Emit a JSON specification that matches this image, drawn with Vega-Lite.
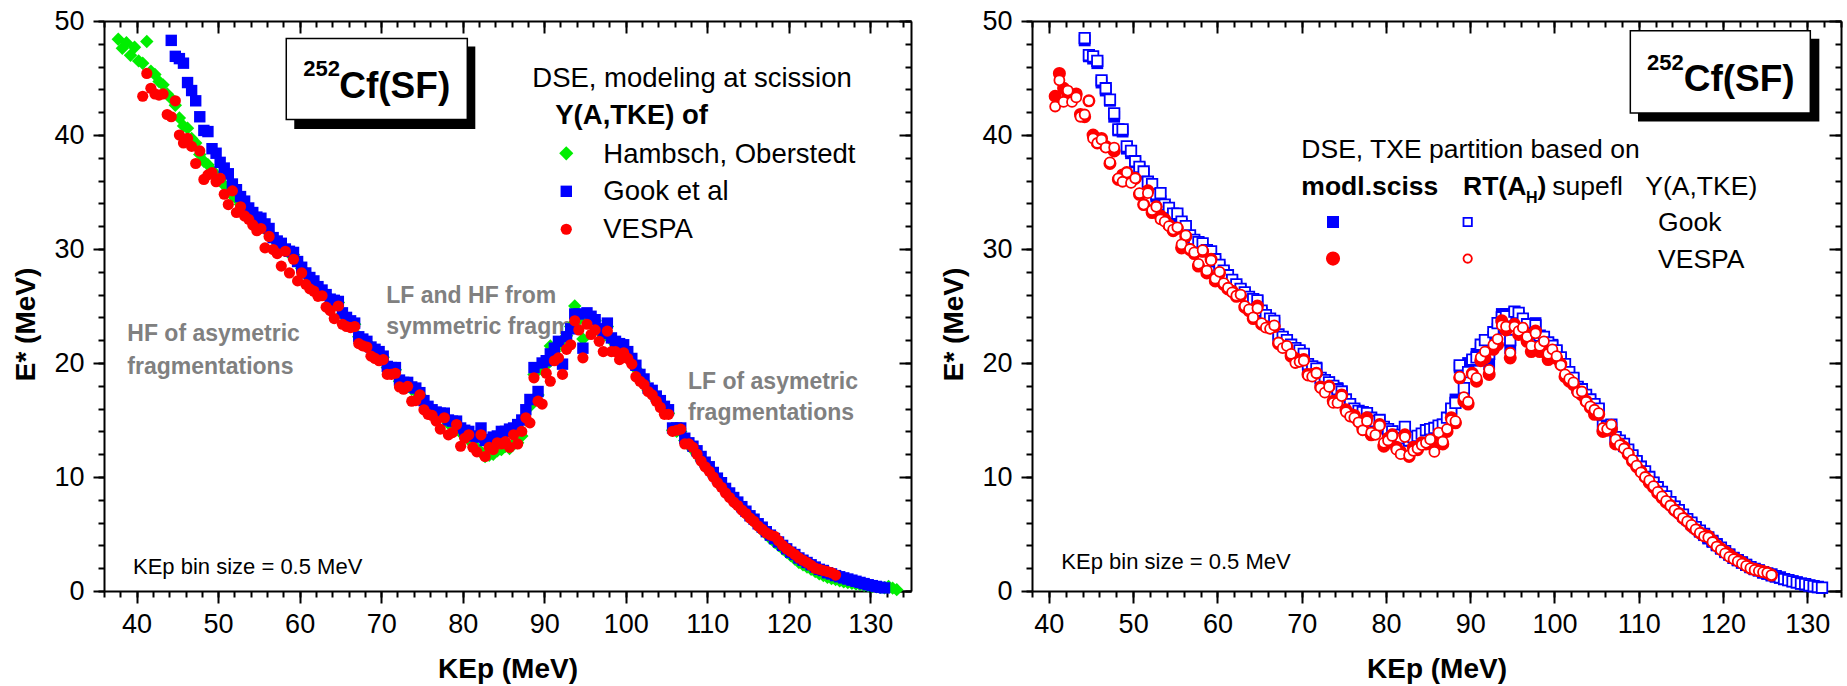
{
"$schema":"https://vega.github.io/schema/vega-lite/v6.json",
"background":"white",
"padding":{"left":12,"top":7,"right":5,"bottom":5},
"config":{"font":"Liberation Sans","view":{"stroke":null},
 "axis":{"grid":false,"domainColor":"black","tickColor":"black","labelColor":"black","titleColor":"black","domainWidth":2,"tickWidth":2,"labelFont":"Liberation Sans","labelFontSize":27,"titleFont":"Liberation Sans","titleFontSize":28,"titleFontWeight":"bold","labelFlush":false,"labelOverlap":false},
 "text":{"font":"Liberation Sans"}},
"datasets":{"d":[
{"k":37.75,"h":48.4},{"k":38.25,"h":47.6},{"k":38.75,"h":48.1},{"k":39.25,"h":47.0},{"k":39.75,"h":47.7},{"k":40.25,"h":46.5},
{"k":40.75,"h":46.3,"v":43.4,"vo":42.5},
{"k":41.25,"h":48.2,"v":45.4,"vo":44.8},
{"k":41.75,"h":45.6,"v":44.1,"vo":42.9},
{"k":42.25,"h":45.3,"v":43.6,"vo":43.9},
{"k":42.75,"h":44.7,"v":43.5,"vo":42.9},
{"k":43.25,"h":44.4,"v":43.6,"vo":43.3},
{"k":43.75,"h":43.6,"v":41.8,"vo":41.6},
{"k":44.25,"h":43.2,"g":48.3,"v":41.6,"go":48.5,"vo":41.8},
{"k":44.75,"h":42.6,"g":46.9,"v":43.0,"go":47.0,"vo":43.0},
{"k":45.25,"h":41.5,"g":46.7,"v":40.0,"go":46.9,"vo":39.7},
{"k":45.75,"h":40.8,"g":46.3,"v":39.3,"go":46.5,"vo":39.3},
{"k":46.25,"h":40.6,"g":44.6,"v":39.7,"go":44.8,"vo":39.6},
{"k":46.75,"h":39.7,"g":43.9,"v":39.0,"go":44.1,"vo":38.9},
{"k":47.25,"h":39.3,"g":43.0,"v":37.5,"go":43.1,"vo":37.6},
{"k":47.75,"h":38.3,"g":41.6,"v":38.6,"go":41.9,"vo":38.9},
{"k":48.25,"h":37.7,"g":40.4,"v":36.1,"go":40.5,"vo":36.2},
{"k":48.75,"h":37.4,"g":40.3,"v":36.5,"go":40.5,"vo":35.9},
{"k":49.25,"h":36.9,"g":38.8,"v":36.7,"go":39.0,"vo":36.7},
{"k":49.75,"h":36.5,"g":38.4,"v":35.9,"go":38.6,"vo":35.8},
{"k":50.25,"h":36.1,"g":37.6,"v":36.2,"go":37.7,"vo":36.2},
{"k":50.75,"h":35.6,"g":37.1,"v":34.8,"go":37.2,"vo":34.9},
{"k":51.25,"h":35.2,"g":36.6,"v":33.9,"go":36.8,"vo":33.9},
{"k":51.75,"h":34.7,"g":35.7,"v":35.1,"go":35.9,"vo":34.9},
{"k":52.25,"h":34.4,"g":35.2,"v":33.2,"go":35.7,"vo":33.4},
{"k":52.75,"h":33.9,"g":34.6,"v":33.7,"go":34.8,"vo":33.7},
{"k":53.25,"h":33.5,"g":34.2,"v":32.9,"go":34.9,"vo":32.6},
{"k":53.75,"h":33.1,"g":33.6,"v":32.6,"go":33.9,"vo":32.4},
{"k":54.25,"h":32.7,"g":33.2,"v":32.1,"go":33.6,"vo":32.0},
{"k":54.75,"h":32.5,"g":32.8,"v":31.6,"go":33.1,"vo":31.7},
{"k":55.25,"h":32.2,"g":32.7,"v":31.8,"go":33.1,"vo":31.9},
{"k":55.75,"h":31.9,"g":32.2,"v":30.1,"go":32.4,"vo":30.4},
{"k":56.25,"h":31.4,"g":31.8,"v":31.1,"go":32.0,"vo":31.2},
{"k":56.75,"h":30.9,"g":31.0,"v":29.95,"go":31.2,"vo":30.0},
{"k":57.25,"h":30.6,"g":30.7,"v":29.6,"go":30.8,"vo":29.7},
{"k":57.75,"h":30.3,"g":30.5,"v":28.5,"go":30.6,"vo":28.7},
{"k":58.25,"h":29.9,"g":30.0,"v":29.8,"go":30.5,"vo":29.9},
{"k":58.75,"h":29.6,"g":29.8,"v":27.9,"go":29.9,"vo":28.1},
{"k":59.25,"h":29.5,"g":29.7,"v":29.1,"go":29.8,"vo":29.0},
{"k":59.75,"h":28.8,"g":28.9,"v":27.2,"go":29.1,"vo":27.4},
{"k":60.25,"h":28.3,"g":28.4,"v":27.9,"go":28.6,"vo":28.0},
{"k":60.75,"h":27.9,"g":27.9,"v":26.9,"go":28.1,"vo":27.0},
{"k":61.25,"h":27.4,"g":27.5,"v":26.5,"go":27.7,"vo":26.6},
{"k":61.75,"h":27.0,"g":27.2,"v":26.3,"go":27.3,"vo":26.2},
{"k":62.25,"h":26.6,"g":26.7,"v":25.85,"go":26.9,"vo":25.9},
{"k":62.75,"h":26.3,"g":26.4,"v":25.9,"go":26.5,"vo":26.0},
{"k":63.25,"h":26.0,"g":26.0,"v":24.9,"go":26.2,"vo":25.0},
{"k":63.75,"h":25.6,"g":25.6,"v":24.6,"go":25.8,"vo":24.7},
{"k":64.25,"h":25.3,"g":25.5,"v":23.9,"go":25.6,"vo":24.0},
{"k":64.75,"h":25.3,"g":25.4,"v":25.0,"go":25.5,"vo":24.8},
{"k":65.25,"h":24.3,"g":24.4,"v":23.4,"go":24.6,"vo":23.5},
{"k":65.75,"h":23.9,"g":24.0,"v":23.2,"go":24.2,"vo":23.1},
{"k":66.25,"h":23.6,"g":23.7,"v":23.1,"go":23.9,"vo":23.0},
{"k":66.75,"h":23.4,"g":23.5,"v":23.2,"go":23.7,"vo":23.3},
{"k":67.25,"h":22.3,"g":22.3,"v":21.7,"go":22.5,"vo":21.8},
{"k":67.75,"h":22.0,"g":22.1,"v":21.5,"go":22.3,"vo":21.3},
{"k":68.25,"h":21.8,"g":21.9,"v":21.4,"go":22.0,"vo":21.5},
{"k":68.75,"h":21.3,"g":21.4,"v":20.6,"go":21.6,"vo":20.8},
{"k":69.25,"h":21.1,"g":21.2,"v":20.4,"go":21.3,"vo":20.0},
{"k":69.75,"h":20.9,"g":21.0,"v":20.2,"go":21.1,"vo":20.1},
{"k":70.25,"h":20.5,"g":20.6,"v":20.3,"go":20.8,"vo":20.2},
{"k":70.75,"h":19.6,"g":19.7,"v":19.0,"go":19.9,"vo":18.9},
{"k":71.25,"h":19.5,"g":19.6,"v":19.0,"go":19.7,"vo":18.8},
{"k":71.75,"h":19.4,"g":19.6,"v":19.1,"go":19.5,"vo":19.1},
{"k":72.25,"h":18.4,"g":18.5,"v":17.9,"go":18.7,"vo":17.8},
{"k":72.75,"h":18.2,"g":18.3,"v":17.7,"go":18.5,"vo":17.4},
{"k":73.25,"h":18.1,"g":18.3,"v":17.95,"go":18.3,"vo":17.9},
{"k":73.75,"h":17.7,"g":17.9,"v":16.65,"go":18.0,"vo":16.5},
{"k":74.25,"h":17.5,"g":17.8,"v":16.7,"go":17.7,"vo":16.5},
{"k":74.75,"h":17.2,"g":17.4,"v":17.2,"go":17.5,"vo":17.1},
{"k":75.25,"h":16.5,"g":16.7,"v":15.9,"go":16.8,"vo":15.7},
{"k":75.75,"h":16.0,"g":16.2,"v":15.5,"go":16.4,"vo":15.3},
{"k":76.25,"h":15.7,"g":15.9,"v":15.4,"go":16.0,"vo":15.2},
{"k":76.75,"h":15.4,"g":15.7,"v":14.9,"go":15.8,"vo":14.8},
{"k":77.25,"h":15.3,"g":15.6,"v":14.2,"go":15.7,"vo":14.1},
{"k":77.75,"h":15.2,"g":15.6,"v":15.2,"go":15.6,"vo":14.9},
{"k":78.25,"h":14.7,"g":15.0,"v":13.7,"go":15.2,"vo":13.9},
{"k":78.75,"h":14.5,"g":14.9,"v":13.9,"go":14.9,"vo":13.7},
{"k":79.25,"h":14.4,"g":14.9,"v":14.6,"go":15.0,"vo":14.5},
{"k":79.75,"h":13.9,"g":14.3,"v":12.7,"go":14.4,"vo":13.0},
{"k":80.25,"h":13.6,"g":14.1,"v":13.4,"go":14.2,"vo":13.2},
{"k":80.75,"h":13.3,"g":14.0,"v":13.7,"go":14.0,"vo":13.6},
{"k":81.25,"h":12.9,"g":13.6,"v":12.6,"go":13.7,"vo":12.4},
{"k":81.75,"h":12.5,"g":13.5,"v":12.2,"go":13.4,"vo":12.0},
{"k":82.25,"h":12.2,"g":14.3,"v":13.7,"go":14.4,"vo":13.5},
{"k":82.75,"h":11.8,"g":13.2,"v":11.8,"go":13.2,"vo":11.9},
{"k":83.25,"h":11.9,"g":13.3,"v":12.6,"go":13.5,"vo":12.3},
{"k":83.75,"h":12.0,"g":13.5,"v":12.4,"go":13.6,"vo":12.5},
{"k":84.25,"h":12.3,"g":13.6,"v":13.0,"go":13.8,"vo":12.8},
{"k":84.75,"h":12.4,"g":14.0,"v":12.9,"go":14.1,"vo":13.0},
{"k":85.25,"h":12.7,"g":14.0,"v":13.1,"go":14.2,"vo":13.3},
{"k":85.75,"h":12.5,"g":14.2,"v":12.6,"go":14.3,"vo":12.2},
{"k":86.25,"h":12.9,"g":14.3,"v":13.7,"go":14.5,"vo":13.9},
{"k":86.75,"h":13.0,"g":14.6,"v":12.9,"go":14.6,"vo":13.1},
{"k":87.25,"h":13.6,"g":15.0,"v":14.0,"go":15.2,"vo":14.2},
{"k":87.75,"h":15.0,"g":15.9,"v":15.2,"go":16.0,"vo":15.0},
{"k":88.25,"h":16.2,"g":16.8,"v":14.75,"go":16.5,"vo":14.9},
{"k":88.75,"h":19.0,"g":19.6,"v":18.7,"go":19.8,"vo":18.8},
{"k":89.25,"h":17.2,"g":17.5,"v":16.65,"go":17.8,"vo":17.0},
{"k":89.75,"h":19.4,"g":20.0,"v":16.4,"go":19.2,"vo":16.6},
{"k":90.25,"h":19.8,"g":20.2,"v":19.1,"go":20.3,"vo":19.0},
{"k":90.75,"h":21.5,"g":20.8,"v":18.4,"go":20.5,"vo":18.7},
{"k":91.25,"h":21.0,"g":21.3,"v":20.2,"go":21.6,"vo":20.5},
{"k":91.75,"h":21.6,"g":21.9,"v":20.45,"go":22.0,"vo":21.0},
{"k":92.25,"h":21.5,"g":19.9,"v":19.0,"go":20.8,"vo":19.4},
{"k":92.75,"h":22.4,"g":22.3,"v":21.2,"go":22.7,"vo":21.6},
{"k":93.25,"h":23.2,"g":23.0,"v":21.6,"go":23.5,"vo":22.1},
{"k":93.75,"h":25.0,"g":24.3,"v":23.7,"go":24.0,"vo":23.3},
{"k":94.25,"h":23.8,"g":24.3,"v":22.9,"go":24.1,"vo":23.2},
{"k":94.75,"h":22.1,"g":21.3,"v":20.45,"go":22.0,"vo":20.9},
{"k":95.25,"h":24.1,"g":24.4,"v":23.4,"go":24.5,"vo":23.2},
{"k":95.75,"h":23.8,"g":24.1,"v":22.5,"go":24.4,"vo":22.8},
{"k":96.25,"h":23.7,"g":23.8,"v":22.9,"go":23.9,"vo":23.1},
{"k":96.75,"h":22.9,"g":23.0,"v":21.9,"go":23.4,"vo":22.3},
{"k":97.25,"h":22.4,"g":22.6,"v":21.0,"go":22.6,"vo":21.5},
{"k":97.75,"h":23.2,"g":23.5,"v":22.8,"go":23.3,"vo":22.6},
{"k":98.25,"h":22.0,"g":22.2,"v":21.0,"go":22.4,"vo":21.5},
{"k":98.75,"h":21.6,"g":21.9,"v":21.0,"go":22.3,"vo":21.9},
{"k":99.25,"h":21.5,"g":21.7,"v":20.3,"go":21.8,"vo":20.8},
{"k":99.75,"h":21.3,"g":21.6,"v":20.9,"go":21.5,"vo":21.2},
{"k":100.25,"h":20.8,"g":21.0,"v":20.4,"go":21.1,"vo":20.6},
{"k":100.75,"h":20.1,"g":20.4,"v":19.9,"go":20.5,"vo":19.8},
{"k":101.25,"h":19.5,"g":19.8,"v":18.8,"go":19.9,"vo":19.0},
{"k":101.75,"h":18.8,"g":19.0,"v":18.4,"go":19.2,"vo":18.6},
{"k":102.25,"h":18.4,"g":18.6,"v":18.1,"go":18.7,"vo":18.3},
{"k":102.75,"h":17.6,"g":17.8,"v":17.5,"go":17.9,"vo":17.4},
{"k":103.25,"h":17.3,"g":17.6,"v":17.2,"go":17.7,"vo":17.5},
{"k":103.75,"h":16.8,"g":17.1,"v":16.65,"go":17.2,"vo":16.6},
{"k":104.25,"h":16.4,"g":16.7,"v":16.1,"go":16.8,"vo":16.2},
{"k":104.75,"h":15.9,"g":16.2,"v":15.5,"go":16.4,"vo":15.9},
{"k":105.25,"h":15.6,"g":15.9,"v":15.5,"go":16.0,"vo":15.6},
{"k":105.75,"h":14.1,"g":14.3,"v":14.0,"go":14.5,"vo":14.3},
{"k":106.25,"h":14.0,"g":14.3,"v":14.1,"go":14.4,"vo":14.2},
{"k":106.75,"h":14.0,"g":14.3,"v":14.2,"go":14.6,"vo":14.6},
{"k":107.25,"h":13.2,"g":13.4,"v":12.9,"go":13.5,"vo":13.3},
{"k":107.75,"h":12.8,"g":13.0,"v":12.9,"go":13.2,"vo":12.8},
{"k":108.25,"h":12.4,"g":12.7,"v":12.6,"go":12.9,"vo":12.5},
{"k":108.75,"h":12.0,"g":12.3,"v":12.0,"go":12.4,"vo":12.1},
{"k":109.25,"h":11.5,"g":11.8,"v":11.4,"go":11.9,"vo":11.5},
{"k":109.75,"h":11.0,"g":11.3,"v":10.9,"go":11.4,"vo":11.0},
{"k":110.25,"h":10.6,"g":10.9,"v":10.5,"go":10.9,"vo":10.4},
{"k":110.75,"h":10.1,"g":10.4,"v":10.0,"go":10.5,"vo":10.0},
{"k":111.25,"h":9.7,"g":9.9,"v":9.5,"go":10.0,"vo":9.7},
{"k":111.75,"h":9.2,"g":9.5,"v":9.1,"go":9.5,"vo":9.2},
{"k":112.25,"h":8.8,"g":9.0,"v":8.6,"go":9.1,"vo":8.7},
{"k":112.75,"h":8.4,"g":8.6,"v":8.2,"go":8.7,"vo":8.3},
{"k":113.25,"h":8.0,"g":8.2,"v":7.8,"go":8.3,"vo":7.9},
{"k":113.75,"h":7.6,"g":7.8,"v":7.5,"go":7.8,"vo":7.5},
{"k":114.25,"h":7.2,"g":7.4,"v":7.1,"go":7.4,"vo":7.1},
{"k":114.75,"h":6.8,"g":7.0,"v":6.8,"go":7.1,"vo":6.8},
{"k":115.25,"h":6.4,"g":6.6,"v":6.4,"go":6.7,"vo":6.4},
{"k":115.75,"h":6.1,"g":6.3,"v":6.1,"go":6.3,"vo":6.1},
{"k":116.25,"h":5.7,"g":5.9,"v":5.7,"go":6.0,"vo":5.8},
{"k":116.75,"h":5.3,"g":5.6,"v":5.4,"go":5.6,"vo":5.4},
{"k":117.25,"h":5.0,"g":5.2,"v":5.1,"go":5.3,"vo":5.1},
{"k":117.75,"h":4.6,"g":4.9,"v":4.9,"go":5.0,"vo":4.8},
{"k":118.25,"h":4.3,"g":4.6,"v":4.8,"go":4.7,"vo":4.7},
{"k":118.75,"h":4.0,"g":4.3,"v":4.4,"go":4.4,"vo":4.3},
{"k":119.25,"h":3.7,"g":4.0,"v":4.0,"go":4.1,"vo":3.9},
{"k":119.75,"h":3.4,"g":3.7,"v":3.7,"go":3.8,"vo":3.6},
{"k":120.25,"h":3.1,"g":3.4,"v":3.45,"go":3.5,"vo":3.3},
{"k":120.75,"h":2.8,"g":3.2,"v":3.2,"go":3.2,"vo":3.0},
{"k":121.25,"h":2.5,"g":2.9,"v":2.9,"go":2.9,"vo":2.8},
{"k":121.75,"h":2.3,"g":2.7,"v":2.7,"go":2.7,"vo":2.6},
{"k":122.25,"h":2.1,"g":2.5,"v":2.5,"go":2.5,"vo":2.4},
{"k":122.75,"h":1.9,"g":2.3,"v":2.25,"go":2.3,"vo":2.2},
{"k":123.25,"h":1.7,"g":2.1,"v":2.0,"go":2.1,"vo":2.0},
{"k":123.75,"h":1.5,"g":1.9,"v":1.9,"go":1.95,"vo":1.85},
{"k":124.25,"h":1.35,"g":1.8,"v":1.8,"go":1.8,"vo":1.75},
{"k":124.75,"h":1.2,"g":1.6,"v":1.7,"go":1.65,"vo":1.65},
{"k":125.25,"h":1.1,"g":1.5,"v":1.6,"go":1.55,"vo":1.6},
{"k":125.75,"h":1.0,"g":1.35,"v":1.4,"go":1.45,"vo":1.4},
{"k":126.25,"h":0.9,"g":1.25,"go":1.3},
{"k":126.75,"h":0.8,"g":1.15,"go":1.2},
{"k":127.25,"h":0.75,"g":1.05,"go":1.05},
{"k":127.75,"h":0.68,"g":0.95,"go":0.95},
{"k":128.25,"h":0.62,"g":0.85,"go":0.85},
{"k":128.75,"h":0.56,"g":0.75,"go":0.75},
{"k":129.25,"h":0.5,"g":0.65,"go":0.65},
{"k":129.75,"h":0.45,"g":0.55,"go":0.6},
{"k":130.25,"h":0.4,"g":0.47,"go":0.5},
{"k":130.75,"h":0.36,"g":0.4,"go":0.42},
{"k":131.25,"h":0.32,"g":0.33,"go":0.35},
{"k":131.75,"h":0.28,"g":0.27,"go":0.3},
{"k":132.25,"h":0.4},{"k":132.75,"h":0.25},{"k":133.25,"h":0.12}
]},
"spacing":121,
"bounds":"flush",
"hconcat":[
{
 "width":807,"height":570,
 "resolve":{"axis":{"x":"independent","y":"independent"}},
 "layer":[
  {"data":{"values":[{}]},"mark":{"type":"text","text":["HF of asymetric","fragmentations"],"align":"left","baseline":"alphabetic","fontSize":23,"fontWeight":"bold","color":"#808080","lineHeight":33},
   "encoding":{"x":{"datum":38.86,"type":"quantitative","axis":null},"y":{"datum":21.91,"type":"quantitative","axis":null}}},
  {"data":{"values":[{}]},"mark":{"type":"text","text":["LF and HF from","symmetric fragm."],"align":"left","baseline":"alphabetic","fontSize":23,"fontWeight":"bold","color":"#808080","lineHeight":31.5},
   "encoding":{"x":{"datum":70.63,"type":"quantitative","axis":null},"y":{"datum":25.27,"type":"quantitative","axis":null}}},
  {"data":{"values":[{}]},"mark":{"type":"text","text":["LF of asymetric","fragmentations"],"align":"left","baseline":"alphabetic","fontSize":23,"fontWeight":"bold","color":"#808080","lineHeight":31},
   "encoding":{"x":{"datum":107.64,"type":"quantitative","axis":null},"y":{"datum":17.7,"type":"quantitative","axis":null}}},
  {"data":{"name":"d"},"mark":{"type":"point","shape":"diamond","filled":true,"color":"#00ee00","size":180,"opacity":1},
   "encoding":{
    "x":{"field":"k","type":"quantitative","scale":{"domain":[36,135],"nice":false,"zero":false},
      "axis":{"orient":"bottom","values":[40,50,60,70,80,90,100,110,120,130],"tickSize":12,"labelPadding":8,"title":"KEp (MeV)","titlePadding":18}},
    "y":{"field":"h","type":"quantitative","scale":{"domain":[0,50],"nice":false,"zero":false},
      "axis":{"orient":"left","values":[0,10,20,30,40,50],"tickSize":11,"labelPadding":9,"title":"E* (MeV)","titlePadding":13,"titleY":303}}}},
  {"data":{"name":"d"},"mark":{"type":"point","shape":"square","filled":true,"color":"#0000ff","size":130,"opacity":1},
   "encoding":{
    "x":{"field":"k","type":"quantitative","scale":{"domain":[36,135],"nice":false,"zero":false},
      "axis":{"orient":"bottom","values":[36,38,40,42,44,46,48,50,52,54,56,58,60,62,64,66,68,70,72,74,76,78,80,82,84,86,88,90,92,94,96,98,100,102,104,106,108,110,112,114,116,118,120,122,124,126,128,130,132,134],"tickSize":6,"labels":false,"domain":false,"title":null}},
    "y":{"field":"g","type":"quantitative","scale":{"domain":[0,50],"nice":false,"zero":false},
      "axis":{"orient":"left","values":[0,2,4,6,8,10,12,14,16,18,20,22,24,26,28,30,32,34,36,38,40,42,44,46,48,50],"tickSize":6,"labels":false,"domain":false,"title":null}}}},
  {"data":{"name":"d"},"mark":{"type":"point","shape":"circle","filled":true,"color":"#ff0000","size":125,"opacity":1},
   "encoding":{
    "x":{"field":"k","type":"quantitative","scale":{"domain":[36,135],"nice":false,"zero":false},
      "axis":{"orient":"top","values":[40,50,60,70,80,90,100,110,120,130],"tickSize":-12,"labels":false,"title":null}},
    "y":{"field":"v","type":"quantitative","scale":{"domain":[0,50],"nice":false,"zero":false},
      "axis":{"orient":"right","values":[0,10,20,30,40,50],"tickSize":-12,"labels":false,"title":null}}}},
  {"data":{"values":[{}]},"mark":{"type":"rect","color":"black"},
   "encoding":{
    "x":{"datum":59.34,"type":"quantitative","axis":{"orient":"top","values":[36,38,40,42,44,46,48,50,52,54,56,58,60,62,64,66,68,70,72,74,76,78,80,82,84,86,88,90,92,94,96,98,100,102,104,106,108,110,112,114,116,118,120,122,124,126,128,130,132,134],"tickSize":-6,"labels":false,"domain":false,"title":null}},
    "x2":{"datum":81.55},
    "y":{"datum":47.77,"type":"quantitative","axis":{"orient":"right","values":[0,2,4,6,8,10,12,14,16,18,20,22,24,26,28,30,32,34,36,38,40,42,44,46,48,50],"tickSize":-6,"labels":false,"domain":false,"title":null}},
    "y2":{"datum":40.52}}},
  {"data":{"values":[{}]},"mark":{"type":"rect","fill":"white","stroke":"black","strokeWidth":1.5},
   "encoding":{"x":{"datum":58.36,"type":"quantitative","axis":null},"x2":{"datum":80.57},"y":{"datum":48.47,"type":"quantitative","axis":null},"y2":{"datum":41.37}}},
  {"data":{"values":[{}]},"mark":{"type":"text","text":"252","align":"left","baseline":"alphabetic","fontSize":22,"fontWeight":"bold","color":"black"},
   "encoding":{"x":{"datum":60.45,"type":"quantitative","axis":null},"y":{"datum":45.14,"type":"quantitative","axis":null}}},
  {"data":{"values":[{}]},"mark":{"type":"text","text":"Cf(SF)","align":"left","baseline":"alphabetic","fontSize":37,"fontWeight":"bold","color":"black"},
   "encoding":{"x":{"datum":64.86,"type":"quantitative","axis":null},"y":{"datum":43.21,"type":"quantitative","axis":null}}},
  {"data":{"values":[{}]},"mark":{"type":"text","text":"DSE, modeling at scission","align":"left","baseline":"alphabetic","fontSize":27.5,"color":"black"},
   "encoding":{"x":{"datum":88.54,"type":"quantitative","axis":null},"y":{"datum":44.17,"type":"quantitative","axis":null}}},
  {"data":{"values":[{}]},"mark":{"type":"text","text":"Y(A,TKE) of","align":"left","baseline":"alphabetic","fontSize":27.5,"fontWeight":"bold","color":"black"},
   "encoding":{"x":{"datum":91.36,"type":"quantitative","axis":null},"y":{"datum":40.93,"type":"quantitative","axis":null}}},
  {"data":{"values":[{}]},"mark":{"type":"point","shape":"diamond","filled":true,"color":"#00ee00","size":200,"opacity":1},
   "encoding":{"x":{"datum":92.71,"type":"quantitative","axis":null},"y":{"datum":38.39,"type":"quantitative","axis":null}}},
  {"data":{"values":[{}]},"mark":{"type":"point","shape":"square","filled":true,"color":"#0000ff","size":130,"opacity":1},
   "encoding":{"x":{"datum":92.71,"type":"quantitative","axis":null},"y":{"datum":35.06,"type":"quantitative","axis":null}}},
  {"data":{"values":[{}]},"mark":{"type":"point","shape":"circle","filled":true,"color":"#ff0000","size":125,"opacity":1},
   "encoding":{"x":{"datum":92.71,"type":"quantitative","axis":null},"y":{"datum":31.73,"type":"quantitative","axis":null}}},
  {"data":{"values":[{}]},"mark":{"type":"text","text":"Hambsch, Oberstedt","align":"left","baseline":"alphabetic","fontSize":27.5,"color":"black"},
   "encoding":{"x":{"datum":97.25,"type":"quantitative","axis":null},"y":{"datum":37.51,"type":"quantitative","axis":null}}},
  {"data":{"values":[{}]},"mark":{"type":"text","text":"Gook et al","align":"left","baseline":"alphabetic","fontSize":27.5,"color":"black"},
   "encoding":{"x":{"datum":97.25,"type":"quantitative","axis":null},"y":{"datum":34.27,"type":"quantitative","axis":null}}},
  {"data":{"values":[{}]},"mark":{"type":"text","text":"VESPA","align":"left","baseline":"alphabetic","fontSize":27.5,"color":"black"},
   "encoding":{"x":{"datum":97.25,"type":"quantitative","axis":null},"y":{"datum":30.94,"type":"quantitative","axis":null}}},
  {"data":{"values":[{}]},"mark":{"type":"text","text":"KEp bin size = 0.5 MeV","align":"left","baseline":"alphabetic","fontSize":22,"color":"black"},
   "encoding":{"x":{"datum":39.56,"type":"quantitative","axis":null},"y":{"datum":1.49,"type":"quantitative","axis":null}}}
 ]
},
{
 "width":809,"height":570,
 "resolve":{"axis":{"x":"independent","y":"independent"}},
 "layer":[
  {"data":{"name":"d"},"mark":{"type":"point","shape":"square","filled":true,"color":"#0000ff","size":140,"opacity":1},
   "encoding":{
    "x":{"field":"k","type":"quantitative","scale":{"domain":[38,134],"nice":false,"zero":false},
      "axis":{"orient":"bottom","values":[40,50,60,70,80,90,100,110,120,130],"tickSize":12,"labelPadding":8,"title":"KEp (MeV)","titlePadding":18}},
    "y":{"field":"g","type":"quantitative","scale":{"domain":[0,50],"nice":false,"zero":false},
      "axis":{"orient":"left","values":[0,10,20,30,40,50],"tickSize":11,"labelPadding":9,"title":"E* (MeV)","titlePadding":13,"titleY":303}}}},
  {"data":{"name":"d"},"mark":{"type":"point","shape":"square","fill":"white","stroke":"#0000ff","strokeWidth":1.8,"size":110,"opacity":1},
   "encoding":{
    "x":{"field":"k","type":"quantitative","scale":{"domain":[38,134],"nice":false,"zero":false},
      "axis":{"orient":"bottom","values":[38,40,42,44,46,48,50,52,54,56,58,60,62,64,66,68,70,72,74,76,78,80,82,84,86,88,90,92,94,96,98,100,102,104,106,108,110,112,114,116,118,120,122,124,126,128,130,132,134],"tickSize":6,"labels":false,"domain":false,"title":null}},
    "y":{"field":"go","type":"quantitative","scale":{"domain":[0,50],"nice":false,"zero":false},
      "axis":{"orient":"left","values":[0,2,4,6,8,10,12,14,16,18,20,22,24,26,28,30,32,34,36,38,40,42,44,46,48,50],"tickSize":6,"labels":false,"domain":false,"title":null}}}},
  {"data":{"name":"d"},"mark":{"type":"point","shape":"circle","filled":true,"color":"#ff0000","size":170,"opacity":1},
   "encoding":{
    "x":{"field":"k","type":"quantitative","scale":{"domain":[38,134],"nice":false,"zero":false},
      "axis":{"orient":"top","values":[40,50,60,70,80,90,100,110,120,130],"tickSize":-12,"labels":false,"title":null}},
    "y":{"field":"v","type":"quantitative","scale":{"domain":[0,50],"nice":false,"zero":false},
      "axis":{"orient":"right","values":[0,10,20,30,40,50],"tickSize":-12,"labels":false,"title":null}}}},
  {"data":{"name":"d"},"mark":{"type":"point","shape":"circle","fill":"white","stroke":"#ff0000","strokeWidth":1.8,"size":100,"opacity":1},
   "encoding":{
    "x":{"field":"k","type":"quantitative","scale":{"domain":[38,134],"nice":false,"zero":false},
      "axis":{"orient":"top","values":[38,40,42,44,46,48,50,52,54,56,58,60,62,64,66,68,70,72,74,76,78,80,82,84,86,88,90,92,94,96,98,100,102,104,106,108,110,112,114,116,118,120,122,124,126,128,130,132,134],"tickSize":-6,"labels":false,"domain":false,"title":null}},
    "y":{"field":"vo","type":"quantitative","scale":{"domain":[0,50],"nice":false,"zero":false},
      "axis":{"orient":"right","values":[0,2,4,6,8,10,12,14,16,18,20,22,24,26,28,30,32,34,36,38,40,42,44,46,48,50],"tickSize":-6,"labels":false,"domain":false,"title":null}}}},
  {"data":{"values":[{}]},"mark":{"type":"rect","color":"black"},
   "encoding":{"x":{"datum":109.91,"type":"quantitative","axis":null},"x2":{"datum":131.43},"y":{"datum":48.44,"type":"quantitative","axis":null},"y2":{"datum":41.19}}},
  {"data":{"values":[{}]},"mark":{"type":"rect","fill":"white","stroke":"black","strokeWidth":1.5},
   "encoding":{"x":{"datum":109.0,"type":"quantitative","axis":null},"x2":{"datum":130.36},"y":{"datum":49.14,"type":"quantitative","axis":null},"y2":{"datum":41.92}}},
  {"data":{"values":[{}]},"mark":{"type":"text","text":"252","align":"left","baseline":"alphabetic","fontSize":22,"fontWeight":"bold","color":"black"},
   "encoding":{"x":{"datum":110.98,"type":"quantitative","axis":null},"y":{"datum":45.72,"type":"quantitative","axis":null}}},
  {"data":{"values":[{}]},"mark":{"type":"text","text":"Cf(SF)","align":"left","baseline":"alphabetic","fontSize":37,"fontWeight":"bold","color":"black"},
   "encoding":{"x":{"datum":115.33,"type":"quantitative","axis":null},"y":{"datum":43.82,"type":"quantitative","axis":null}}},
  {"data":{"values":[{}]},"mark":{"type":"text","text":"DSE, TXE partition based on","align":"left","baseline":"alphabetic","fontSize":26.5,"color":"black"},
   "encoding":{"x":{"datum":69.96,"type":"quantitative","axis":null},"y":{"datum":37.98,"type":"quantitative","axis":null}}},
  {"data":{"values":[{}]},"mark":{"type":"text","text":"modl.sciss","align":"left","baseline":"alphabetic","fontSize":26.5,"fontWeight":"bold","color":"black"},
   "encoding":{"x":{"datum":69.96,"type":"quantitative","axis":null},"y":{"datum":34.77,"type":"quantitative","axis":null}}},
  {"data":{"values":[{}]},"mark":{"type":"text","text":"RT(A","align":"left","baseline":"alphabetic","fontSize":26.5,"fontWeight":"bold","color":"black"},
   "encoding":{"x":{"datum":89.15,"type":"quantitative","axis":null},"y":{"datum":34.77,"type":"quantitative","axis":null}}},
  {"data":{"values":[{}]},"mark":{"type":"text","text":"H","align":"left","baseline":"alphabetic","fontSize":16,"fontWeight":"bold","color":"black"},
   "encoding":{"x":{"datum":96.63,"type":"quantitative","axis":null},"y":{"datum":34.03,"type":"quantitative","axis":null}}},
  {"data":{"values":[{}]},"mark":{"type":"text","text":")","align":"left","baseline":"alphabetic","fontSize":26.5,"fontWeight":"bold","color":"black"},
   "encoding":{"x":{"datum":97.99,"type":"quantitative","axis":null},"y":{"datum":34.77,"type":"quantitative","axis":null}}},
  {"data":{"values":[{}]},"mark":{"type":"text","text":"supefl","align":"left","baseline":"alphabetic","fontSize":26.5,"color":"black"},
   "encoding":{"x":{"datum":99.73,"type":"quantitative","axis":null},"y":{"datum":34.77,"type":"quantitative","axis":null}}},
  {"data":{"values":[{}]},"mark":{"type":"text","text":"Y(A,TKE)","align":"left","baseline":"alphabetic","fontSize":26.5,"color":"black"},
   "encoding":{"x":{"datum":110.78,"type":"quantitative","axis":null},"y":{"datum":34.77,"type":"quantitative","axis":null}}},
  {"data":{"values":[{}]},"mark":{"type":"point","shape":"square","filled":true,"color":"#0000ff","size":144,"opacity":1},
   "encoding":{"x":{"datum":73.72,"type":"quantitative","axis":null},"y":{"datum":32.37,"type":"quantitative","axis":null}}},
  {"data":{"values":[{}]},"mark":{"type":"point","shape":"circle","filled":true,"color":"#ff0000","size":200,"opacity":1},
   "encoding":{"x":{"datum":73.72,"type":"quantitative","axis":null},"y":{"datum":29.16,"type":"quantitative","axis":null}}},
  {"data":{"values":[{}]},"mark":{"type":"point","shape":"square","fill":"white","stroke":"#0000ff","strokeWidth":1.8,"size":70,"opacity":1},
   "encoding":{"x":{"datum":89.7,"type":"quantitative","axis":null},"y":{"datum":32.37,"type":"quantitative","axis":null}}},
  {"data":{"values":[{}]},"mark":{"type":"point","shape":"circle","fill":"white","stroke":"#ff0000","strokeWidth":1.8,"size":70,"opacity":1},
   "encoding":{"x":{"datum":89.7,"type":"quantitative","axis":null},"y":{"datum":29.16,"type":"quantitative","axis":null}}},
  {"data":{"values":[{}]},"mark":{"type":"text","text":"Gook","align":"left","baseline":"alphabetic","fontSize":26.5,"color":"black"},
   "encoding":{"x":{"datum":112.29,"type":"quantitative","axis":null},"y":{"datum":31.55,"type":"quantitative","axis":null}}},
  {"data":{"values":[{}]},"mark":{"type":"text","text":"VESPA","align":"left","baseline":"alphabetic","fontSize":26.5,"color":"black"},
   "encoding":{"x":{"datum":112.29,"type":"quantitative","axis":null},"y":{"datum":28.34,"type":"quantitative","axis":null}}},
  {"data":{"values":[{}]},"mark":{"type":"text","text":"KEp bin size = 0.5 MeV","align":"left","baseline":"alphabetic","fontSize":22,"color":"black"},
   "encoding":{"x":{"datum":41.48,"type":"quantitative","axis":null},"y":{"datum":1.9,"type":"quantitative","axis":null}}}
 ]
}
]
}
